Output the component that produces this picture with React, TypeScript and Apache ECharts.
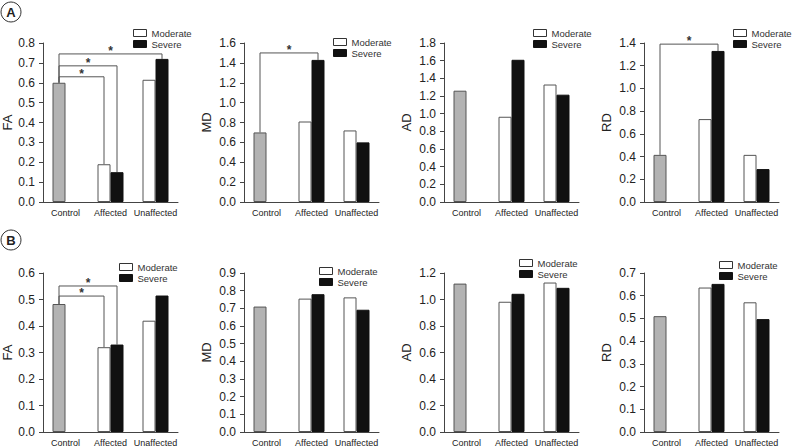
import React, { useEffect, useRef } from 'react';
import * as echarts from 'echarts';

// ---------- data ----------
const categories = ['Control', 'Affected', 'Unaffected'];
const seriesNames = ['Moderate', 'Severe'];
const measures = ['FA', 'MD', 'AD', 'RD'];

// Row A (first value of the "moderate" slot is the Control group)
const aFA_moderate = [0.6, 0.19, 0.615];
const aFA_severe = [null, 0.15, 0.72];
const aMD_moderate = [0.7, 0.81, 0.72];
const aMD_severe = [null, 1.43, 0.6];
const aAD_moderate = [1.26, 0.965, 1.33];
const aAD_severe = [null, 1.61, 1.215];
const aRD_moderate = [0.415, 0.73, 0.415];
const aRD_severe = [null, 1.33, 0.29];

// Row B
const bFA_moderate = [0.483, 0.32, 0.42];
const bFA_severe = [null, 0.33, 0.515];
const bMD_moderate = [0.71, 0.755, 0.762];
const bMD_severe = [null, 0.78, 0.692];
const bAD_moderate = [1.12, 0.983, 1.128];
const bAD_severe = [null, 1.043, 1.088];
const bRD_moderate = [0.51, 0.636, 0.571];
const bRD_severe = [null, 0.652, 0.497];

// Axis ranges
const aMax = [0.8, 1.6, 1.8, 1.4];
const aStep = [0.1, 0.2, 0.2, 0.2];
const bMax = [0.6, 0.9, 1.2, 0.7];
const bStep = [0.1, 0.1, 0.2, 0.1];

// Significance brackets: [fromCategory, fromSlot, toCategory, toSlot, bracketLevel]
const aFA_sig = [[0, 0, 1, 0, 0.63], [0, 0, 1, 1, 0.685], [0, 0, 2, 1, 0.745]];
const aMD_sig = [[0, 0, 1, 1, 1.5]];
const aAD_sig: number[][] = [];
const aRD_sig = [[0, 0, 1, 1, 1.39]];
const bFA_sig = [[0, 0, 1, 0, 0.513], [0, 0, 1, 1, 0.551]];
const bMD_sig: number[][] = [];
const bAD_sig: number[][] = [];
const bRD_sig: number[][] = [];

// ---------- layout ----------
const FONT = 'Liberation Sans, Arial, Helvetica, sans-serif';
const BAR_W = 13;
const gridLefts = [43, 244, 444, 644];
const GRID_W = 135;
const GRID_H = 159;
const rowTops = [43, 273];
const nameGaps = [[28, 31, 31, 31], [28, 31, 31, 31]];
const legendPos = [
  [[133, 28], [333, 37], [533, 28], [733, 28]],
  [[119, 262], [319, 266], [519, 258], [719, 260]],
];

const rows = [
  {
    moderate: [aFA_moderate, aMD_moderate, aAD_moderate, aRD_moderate],
    severe: [aFA_severe, aMD_severe, aAD_severe, aRD_severe],
    sig: [aFA_sig, aMD_sig, aAD_sig, aRD_sig],
    max: aMax,
    step: aStep,
  },
  {
    moderate: [bFA_moderate, bMD_moderate, bAD_moderate, bRD_moderate],
    severe: [bFA_severe, bMD_severe, bAD_severe, bRD_severe],
    sig: [bFA_sig, bMD_sig, bAD_sig, bRD_sig],
    max: bMax,
    step: bStep,
  },
];

function buildOption() {
  const grid: any[] = [];
  const xAxis: any[] = [];
  const yAxis: any[] = [];
  const series: any[] = [];
  const legend: any[] = [];
  let gi = 0;
  rows.forEach((row, r) => {
    measures.forEach((m, c) => {
      grid.push({ left: gridLefts[c], top: rowTops[r], width: GRID_W, height: GRID_H, containLabel: false });
      xAxis.push({
        type: 'category',
        gridIndex: gi,
        data: categories,
        axisLine: { lineStyle: { color: '#444', width: 1 } },
        axisTick: { length: 4, lineStyle: { color: '#444' } },
        axisLabel: { interval: 0, fontSize: 9, color: '#222', margin: 6, fontFamily: FONT },
      });
      yAxis.push({
        type: 'value',
        gridIndex: gi,
        min: 0,
        max: row.max[c],
        interval: row.step[c],
        name: m,
        nameLocation: 'middle',
        nameGap: nameGaps[r][c],
        nameTextStyle: { fontSize: 13, color: '#222', fontFamily: FONT },
        splitLine: { show: false },
        axisLine: { show: true, lineStyle: { color: '#444', width: 1 } },
        axisTick: { show: true, length: 4, lineStyle: { color: '#444' } },
        axisLabel: {
          fontSize: 12,
          color: '#222',
          margin: 8,
          fontFamily: FONT,
          formatter: (v: number) => v.toFixed(1),
        },
      });
      const mod = row.moderate[c];
      const sev = row.severe[c];
      series.push({
        type: 'bar',
        name: seriesNames[0],
        xAxisIndex: gi,
        yAxisIndex: gi,
        barWidth: BAR_W,
        barGap: '0%',
        itemStyle: { color: '#ffffff', borderColor: '#555', borderWidth: 1 },
        data: mod.map((v, i) =>
          i === 0
            ? { value: v, itemStyle: { color: '#b3b3b3', borderColor: '#555', borderWidth: 1 } }
            : v
        ),
      });
      series.push({
        type: 'bar',
        name: seriesNames[1],
        xAxisIndex: gi,
        yAxisIndex: gi,
        barWidth: BAR_W,
        barGap: '0%',
        itemStyle: { color: '#111111', borderColor: '#111', borderWidth: 1 },
        data: sev.map((v) => (v == null ? '-' : v)),
      });
      const slotVals = [mod, sev];
      const sigData = row.sig[c].map((s) => [
        s[0],
        s[4],
        s[1],
        s[2],
        s[3],
        slotVals[s[1]][s[0]] as number,
        slotVals[s[3]][s[2]] as number,
      ]);
      if (sigData.length) {
        series.push({
          type: 'custom',
          xAxisIndex: gi,
          yAxisIndex: gi,
          clip: false,
          silent: true,
          encode: { x: 0, y: 1 },
          data: sigData,
          renderItem: (params: any, api: any) => {
            const fc = api.value(0);
            const lvl = api.value(1);
            const fs = api.value(2);
            const tc = api.value(3);
            const ts = api.value(4);
            const ft = api.value(5);
            const tt = api.value(6);
            const x1 = api.coord([fc, 0])[0] + (fs === 0 ? -BAR_W / 2 : BAR_W / 2);
            const x2 = api.coord([tc, 0])[0] + (ts === 0 ? -BAR_W / 2 : BAR_W / 2);
            const yl = api.coord([fc, lvl])[1];
            const y1 = api.coord([fc, ft])[1];
            const y2 = api.coord([tc, tt])[1];
            return {
              type: 'group',
              children: [
                {
                  type: 'polyline',
                  shape: { points: [[x1, y1], [x1, yl], [x2, yl], [x2, y2]] },
                  style: { stroke: '#555', lineWidth: 1, fill: 'none' },
                },
                {
                  type: 'text',
                  x: (x1 + x2) / 2,
                  y: yl - 3,
                  style: {
                    text: '*',
                    fontSize: 12,
                    fontWeight: 'bold',
                    fontFamily: FONT,
                    fill: '#333',
                    align: 'center',
                    verticalAlign: 'middle',
                  },
                },
              ],
            };
          },
        });
      }
      legend.push({
        left: legendPos[r][c][0],
        top: legendPos[r][c][1],
        orient: 'vertical',
        icon: 'rect',
        itemWidth: 13,
        itemHeight: 7,
        itemGap: 1,
        padding: 0,
        selectedMode: false,
        textStyle: { fontSize: 9.5, color: '#333', fontFamily: FONT },
        data: [
          { name: seriesNames[0], itemStyle: { color: '#ffffff', borderColor: '#333', borderWidth: 1 } },
          { name: seriesNames[1], itemStyle: { color: '#111111', borderColor: '#111', borderWidth: 1 } },
        ],
      });
      gi++;
    });
  });

  const panelLabel = (letter: string, cx: number, cy: number) => ({
    type: 'group',
    children: [
      { type: 'circle', shape: { cx, cy, r: 10 }, style: { fill: '#fff', stroke: '#333', lineWidth: 1 } },
      {
        type: 'text',
        x: cx,
        y: cy,
        style: {
          text: letter,
          fontSize: 13,
          fontWeight: 'bold',
          fontFamily: FONT,
          fill: '#222',
          align: 'center',
          verticalAlign: 'middle',
        },
      },
    ],
  });

  return {
    animation: false,
    backgroundColor: '#ffffff',
    textStyle: { fontFamily: FONT },
    grid,
    xAxis,
    yAxis,
    series,
    legend,
    graphic: [panelLabel('A', 11, 12), panelLabel('B', 11, 240)],
  };
}

export default function App() {
  const ref = useRef<HTMLDivElement>(null);
  useEffect(() => {
    if (!ref.current) return;
    const chart = echarts.init(ref.current, undefined, { renderer: 'svg' });
    chart.setOption(buildOption() as any);
    return () => chart.dispose();
  }, []);
  return (
    <div
      ref={ref}
      style={{ position: 'fixed', left: 0, top: 0, width: 793, height: 448, background: '#fff' }}
    />
  );
}
